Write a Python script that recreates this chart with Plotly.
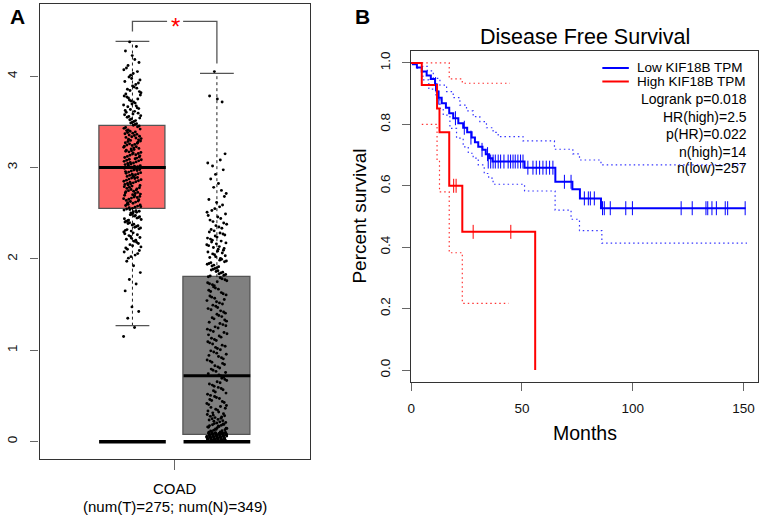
import math
import plotly.graph_objects as go

W, H = 763, 518
FONT = "Liberation Sans, Arial, sans-serif"

# ---------------- Panel A data ----------------
groups = ["T", "N"]
box_q1 = [2.55, 0.07]
box_median = [3.00, 0.72]
box_q3 = [3.46, 1.80]
box_lower = [1.27, 0.00]
box_upper = [4.38, 4.03]
box_colors = ["#FF6666", "#808080"]
flat_box_level = [0.0, 0.0]

# jittered expression values, given as counts per 0.1-wide bin (bin lower edges)
T_bin_lo = [1.1, 1.2, 1.3, 1.4, 1.5, 1.6, 1.7, 1.8, 1.9, 2.0, 2.1, 2.2, 2.3, 2.4, 2.5, 2.6, 2.7,
            2.8, 2.9, 3.0, 3.1, 3.2, 3.3, 3.4, 3.5, 3.6, 3.7, 3.8, 3.9, 4.0, 4.1, 4.2, 4.3]
T_counts = [1, 1, 1, 2, 0, 1, 2, 1, 2, 6, 8, 10, 12, 14, 16, 16, 16,
            17, 17, 17, 16, 16, 15, 12, 11, 10, 9, 8, 6, 5, 3, 2, 2]
N_bin_lo = [0.0, 0.1, 0.2, 0.3, 0.4, 0.5, 0.6, 0.7, 0.8, 0.9, 1.0, 1.1, 1.2, 1.3, 1.4, 1.5, 1.6,
            1.7, 1.8, 1.9, 2.0, 2.1, 2.2, 2.3, 2.4, 2.5, 2.6, 2.7, 2.8, 2.9, 3.0, 3.1, 3.2, 3.3,
            3.4, 3.5, 3.6, 3.7, 3.8, 3.9, 4.0]
N_counts = [100, 22, 15, 10, 9, 8, 8, 8, 8, 8, 8, 8, 8, 8, 8, 8, 8,
            9, 12, 11, 10, 10, 9, 7, 6, 5, 3, 3, 2, 2, 3, 1, 0, 0,
            0, 0, 0, 3, 0, 0, 1]

sig_bracket_top = 4.60
sig_bracket_ends = [4.49, 4.14]
yA_ticks = [0, 1, 2, 3, 4]
xA_label = ["COAD", "(num(T)=275; num(N)=349)"]

# ---------------- Panel B data (Kaplan-Meier) ----------------
low_t = [0, 0.8, 2.6, 4.8, 7.0, 8.9, 10.8, 11.5, 12.3, 13.8, 15.7, 17.2, 19.0, 21.3, 23.5, 25.3,
         27.3, 28.8, 30.3, 32.2, 33.7, 35.2, 36.7, 51.2, 65.1, 72.8, 76.2, 85.7, 151]
low_s = [1.0, 0.996, 0.985, 0.972, 0.959, 0.948, 0.931, 0.907, 0.887, 0.869, 0.854, 0.836, 0.82,
         0.804, 0.789, 0.774, 0.757, 0.742, 0.727, 0.717, 0.703, 0.69, 0.679, 0.659, 0.613, 0.589,
         0.559, 0.527, 0.527]
low_up_t = [4.8, 7.3, 10, 13, 16, 19, 22, 25, 28, 31, 34, 37, 39.3, 50.5, 64.7, 73, 76, 85.7, 151]
low_up_s = [0.989, 0.974, 0.95, 0.928, 0.907, 0.887, 0.863, 0.844, 0.825, 0.809, 0.789, 0.774,
            0.76, 0.746, 0.719, 0.704, 0.684, 0.668, 0.668]
low_lo_t = [2.5, 5.3, 8, 11.2, 13, 14.5, 17.5, 20.5, 23.5, 25.8, 28, 30.3, 33, 35, 37, 51.2, 65,
            72.2, 76, 86.1, 151.6]
low_lo_s = [0.983, 0.945, 0.915, 0.885, 0.852, 0.83, 0.787, 0.755, 0.727, 0.706, 0.69, 0.668,
            0.64, 0.625, 0.605, 0.583, 0.521, 0.491, 0.454, 0.413, 0.413]
low_cens_t = [11, 12.5, 20, 24, 27, 32, 34.5, 34.8, 35.9, 37, 38, 39.3, 40.4, 41.9, 43.8, 44.9,
              46, 47, 48.2, 49.4, 50.5, 52.7, 55, 56.5, 58, 59.5, 61, 62.5, 64, 69.2, 72.2, 78.2,
              80, 80.9, 82.7, 86.4, 87.2, 89.9, 96.9, 99.9, 121.9, 126.9, 133.1, 133.9, 135.8,
              137.8, 141.8, 142.9, 150.8]
low_cens_s = [0.931, 0.887, 0.82, 0.789, 0.757, 0.717, 0.703, 0.679, 0.679, 0.679, 0.679, 0.679,
              0.679, 0.679, 0.679, 0.679, 0.679, 0.679, 0.679, 0.679, 0.679, 0.659, 0.659, 0.659,
              0.659, 0.659, 0.659, 0.659, 0.659, 0.613, 0.613, 0.559, 0.559, 0.559, 0.559, 0.527,
              0.527, 0.527, 0.527, 0.527, 0.527, 0.527, 0.527, 0.527, 0.527, 0.527, 0.527, 0.527,
              0.527]

high_t = [0, 4.8, 11.7, 12.8, 17.2, 23.1, 56]
high_s = [1.0, 0.928, 0.852, 0.774, 0.600, 0.450, 0.0]
high_up_t = [4.8, 17.2, 23.1, 44.6]
high_up_s = [1.0, 0.948, 0.934, 0.934]
high_lo_t = [4.8, 11.7, 12.8, 17.2, 23.1, 44.0]
high_lo_s = [0.80, 0.68, 0.58, 0.382, 0.217, 0.217]
high_cens_t = [19.2, 20.3, 28.0, 45.0]
high_cens_s = [0.60, 0.60, 0.45, 0.45]

legend_labels = ["Low KIF18B TPM", "High KIF18B TPM"]
stat_lines = ["Logrank p=0.018", "HR(high)=2.5", "p(HR)=0.022", "n(high)=14", "n(low)=257"]
xB_ticks = [0, 50, 100, 150]
yB_ticks = [0.0, 0.2, 0.4, 0.6, 0.8, 1.0]

# ---------------- layout helpers ----------------
def px(x):
    return x / W

def py(y):
    return 1 - y / H

A_left, A_right, A_top, A_bot = 36.7, 308.0, 4.0, 459.0
B_left, B_right, B_top, B_bot = 409.3, 758.0, 51.0, 382.0
pos = [-0.5, 0.5]
half_w = 0.395
cap_half = 0.2
jit = [0.105, 0.12]

fig = go.Figure()

# boxes
for i in range(2):
    fig.add_trace(go.Bar(x=[pos[i]], y=[box_q3[i] - box_q1[i]], base=[box_q1[i]], width=[2 * half_w],
                         marker=dict(color=box_colors[i], line=dict(color="#555555", width=1.3)),
                         xaxis="x", yaxis="y", showlegend=False, hoverinfo="skip"))
# whiskers + caps + medians + flat boxes
for i in range(2):
    c = pos[i]
    fig.add_trace(go.Scatter(x=[c, c, None, c, c], y=[box_q3[i], box_upper[i], None, box_q1[i], box_lower[i]],
                             mode="lines", line=dict(color="#222222", width=1, dash="3px,3px"),
                             xaxis="x", yaxis="y", showlegend=False, hoverinfo="skip"))
    fig.add_trace(go.Scatter(x=[c - cap_half, c + cap_half, None, c - cap_half, c + cap_half],
                             y=[box_upper[i], box_upper[i], None, box_lower[i], box_lower[i]],
                             mode="lines", line=dict(color="#555555", width=1.3),
                             xaxis="x", yaxis="y", showlegend=False, hoverinfo="skip"))
    fig.add_trace(go.Scatter(x=[c - half_w, c + half_w], y=[box_median[i]] * 2, mode="lines",
                             line=dict(color="black", width=3), xaxis="x", yaxis="y",
                             showlegend=False, hoverinfo="skip"))
    fig.add_trace(go.Scatter(x=[c - half_w, c + half_w], y=[flat_box_level[i]] * 2, mode="lines",
                             line=dict(color="black", width=3.5), xaxis="x", yaxis="y",
                             showlegend=False, hoverinfo="skip"))

# jittered points
phi = 0.6180339887
sq2 = 0.4142135624
for i, (lo, cnt) in enumerate([(T_bin_lo, T_counts), (N_bin_lo, N_counts)]):
    vals = []
    for e, n in zip(lo, cnt):
        order = sorted(range(n), key=lambda k: (k * sq2 + 0.17 * len(vals)) % 1)
        for k in order:
            vals.append(e + (k + 0.5) / n * 0.1)
    xs = [pos[i] + ((j * phi + 0.3 * i) % 1 - 0.5) * 2 * jit[i] for j in range(len(vals))]
    fig.add_trace(go.Scatter(x=xs, y=vals, mode="markers",
                             marker=dict(color="black", size=2.9, line=dict(width=0)),
                             xaxis="x", yaxis="y", showlegend=False, hoverinfo="skip"))

# significance bracket
fig.add_trace(go.Scatter(x=[pos[0], pos[0], -0.09, None, 0.10, pos[1], pos[1]],
                         y=[sig_bracket_ends[0], sig_bracket_top, sig_bracket_top, None,
                            sig_bracket_top, sig_bracket_top, sig_bracket_ends[1]],
                         mode="lines", line=dict(color="#555555", width=1.3),
                         xaxis="x", yaxis="y", showlegend=False, hoverinfo="skip"))

# ---------------- Panel B traces ----------------
def km_line(t, s, color, width, dash):
    fig.add_trace(go.Scatter(x=t, y=s, mode="lines", line=dict(color=color, width=width, dash=dash, shape="hv"),
                             xaxis="x2", yaxis="y2", showlegend=False, hoverinfo="skip"))

CI_DASH = "1.5px,3px"
km_line(low_up_t, low_up_s, "rgba(0,0,255,0.8)", 1.2, CI_DASH)
km_line(low_lo_t, low_lo_s, "rgba(0,0,255,0.8)", 1.2, CI_DASH)
km_line(high_up_t, high_up_s, "rgba(255,0,0,0.8)", 1.2, CI_DASH)
km_line(high_lo_t, high_lo_s, "rgba(255,0,0,0.8)", 1.2, CI_DASH)
km_line(low_t, low_s, "#0000FF", 2, "solid")
km_line(high_t, high_s, "#FF0000", 2, "solid")
fig.add_trace(go.Scatter(x=low_cens_t, y=low_cens_s, mode="markers",
                         marker=dict(symbol="line-ns-open", size=10, color="#0000FF",
                                     line=dict(color="#0000FF", width=1)),
                         xaxis="x2", yaxis="y2", showlegend=False, hoverinfo="skip"))
fig.add_trace(go.Scatter(x=high_cens_t, y=high_cens_s, mode="markers",
                         marker=dict(symbol="line-ns-open", size=10, color="#FF0000",
                                     line=dict(color="#FF0000", width=1)),
                         xaxis="x2", yaxis="y2", showlegend=False, hoverinfo="skip"))

ann = []
shapes = []

# legend keys
leg_y = [68, 81.5]
leg_col = ["#0000FF", "#FF0000"]
for k in range(2):
    shapes.append(dict(type="line", xref="paper", yref="paper", x0=px(601.7), x1=px(628.3),
                       y0=py(leg_y[k]), y1=py(leg_y[k]), line=dict(color=leg_col[k], width=2)))
    ann.append(dict(text=legend_labels[k], xref="paper", yref="paper", x=px(634), y=py(leg_y[k]),
                    xanchor="left", yanchor="middle", showarrow=False,
                    font=dict(size=13.5, color="black", family=FONT)))
stat_y = [98.7, 116.7, 133.5, 151.5, 168.5]
for k, s in enumerate(stat_lines):
    ann.append(dict(text=s, xref="paper", yref="paper", x=px(749), y=py(stat_y[k]),
                    xanchor="right", yanchor="middle", showarrow=False,
                    font=dict(size=14, color="black", family=FONT)))

# titles and labels
ann.append(dict(text="Disease Free Survival", xref="paper", yref="paper", x=px(584), y=py(37),
                xanchor="center", yanchor="middle", showarrow=False, font=dict(size=21.5, color="black", family=FONT)))
ann.append(dict(text="Percent survival", xref="paper", yref="paper", x=px(357), y=py(216),
                xanchor="center", yanchor="middle", textangle=-90, showarrow=False,
                font=dict(size=19, color="black", family=FONT)))
ann.append(dict(text="Months", xref="paper", yref="paper", x=px(584), y=py(433),
                xanchor="center", yanchor="middle", showarrow=False, font=dict(size=19.5, color="black", family=FONT)))
ann.append(dict(text=xA_label[0], xref="paper", yref="paper", x=px(172.3), y=py(488),
                xanchor="center", yanchor="middle", showarrow=False, font=dict(size=15, color="black", family=FONT)))
ann.append(dict(text=xA_label[1], xref="paper", yref="paper", x=px(172.3), y=py(506),
                xanchor="center", yanchor="middle", showarrow=False, font=dict(size=15, color="black", family=FONT)))
ann.append(dict(text="<b>A</b>", xref="paper", yref="paper", x=px(15), y=py(16),
                xanchor="center", yanchor="middle", showarrow=False, font=dict(size=21, color="black", family=FONT)))
ann.append(dict(text="<b>B</b>", xref="paper", yref="paper", x=px(361), y=py(16),
                xanchor="center", yanchor="middle", showarrow=False, font=dict(size=21, color="black", family=FONT)))
ann.append(dict(text="*", xref="x", yref="y", x=0.005, y=sig_bracket_top, xanchor="center", yanchor="middle",
                yshift=-5, showarrow=False, font=dict(size=24, color="#FF0000", family=FONT)))

axis_common = dict(showline=True, mirror=True, linecolor="#333333", linewidth=1.2, showgrid=False,
                   zeroline=False, ticks="outside", tickcolor="#666666", tickwidth=1.2,
                   tickfont=dict(size=13.5, color="#111111", family=FONT))

fig.update_layout(
    width=W, height=H, margin=dict(l=0, r=0, t=0, b=0),
    paper_bgcolor="white", plot_bgcolor="white", barmode="overlay", bargap=0,
    showlegend=False,
    xaxis=dict(domain=[px(A_left), px(A_right)], range=[-1.6, 1.6], tickvals=[0], ticktext=[""],
               ticklen=10, anchor="y", **axis_common),
    yaxis=dict(domain=[py(A_bot), py(A_top)], range=[-0.19, 4.79], tickvals=yA_ticks, tickangle=-90,
               ticklen=8, anchor="x", ticklabelstandoff=8, **axis_common),
    xaxis2=dict(domain=[px(B_left), px(B_right)], range=[-0.2, 156.6], tickvals=xB_ticks, ticklen=8,
                anchor="y2", ticklabelstandoff=6, **axis_common),
    yaxis2=dict(domain=[py(B_bot), py(B_top)], range=[-0.039, 1.039], tickvals=yB_ticks,
                tickformat=".1f", tickangle=-90, ticklen=8, anchor="x2", ticklabelstandoff=6, **axis_common),
    annotations=ann, shapes=shapes,
)

fig.write_html("out.html", config={"displayModeBar": False},
               post_script="document.body.style.margin='0';document.body.style.overflow='hidden';")
